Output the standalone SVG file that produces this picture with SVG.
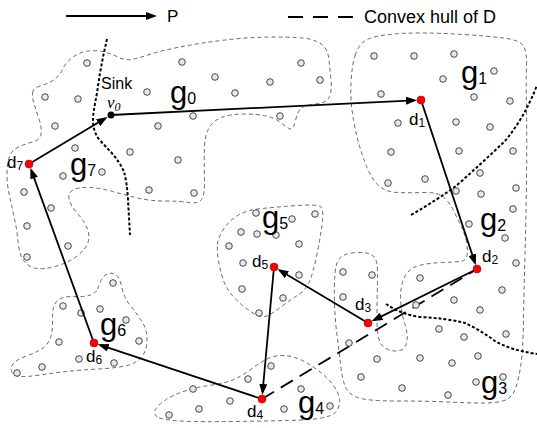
<svg xmlns="http://www.w3.org/2000/svg" width="537" height="428" viewBox="0 0 537 428">
<style>
.rg{fill:none;stroke:#555;stroke-width:0.9;stroke-dasharray:4 3}
.sep{fill:none;stroke:#000;stroke-width:2;stroke-dasharray:3 2}
.s{fill:#e3e8f0;stroke:#333;stroke-width:0.9}
.e{fill:none;stroke:#000;stroke-width:1.8;marker-end:url(#ah)}
.d{fill:#ff0000;stroke:#b00000;stroke-width:0.6}
.t{font-family:"Liberation Sans",Arial,sans-serif;fill:#000}
.gl{font-size:31px}
.dl{font-size:17px}
</style>
<defs>
<marker id="ah" viewBox="0 0 11 8" refX="8" refY="4" markerWidth="11" markerHeight="8" markerUnits="userSpaceOnUse" orient="auto"><path d="M0,0 L11,4 L0,8 Z" fill="#000"/></marker>
</defs>
<rect width="537" height="428" fill="#fff"/>

<g id="legend">
<line x1="66" y1="16" x2="154" y2="16" class="e"/>
<text class="t" x="167" y="22" font-size="17">P</text>
<line x1="288" y1="17" x2="353" y2="17" stroke="#000" stroke-width="2" stroke-dasharray="15 10"/>
<text class="t" x="364" y="22.5" font-size="18">Convex hull of D</text>
</g>

<g id="regions">
<path id="region-g0-g7" class="rg" d="M32.5,92.5 Q33,88 41.5,85.5 Q50,83 55,79 Q60,75 63,68.5 Q66,62 73,57 Q80,52 88.5,51 Q97,50 104.5,52 Q112,54 119,57.5 Q126,61 134,59 Q142,57 151,54 Q160,51 180,47 Q200,43 225,40 Q250,37 275,37 Q300,37 309,39 Q318,41 323,45.5 Q328,50 329,60 Q330,70 331,81 Q332,92 329,97.5 Q326,103 316,104 Q306,105 302,107.5 Q298,110 295.5,120.5 Q293,131 289,128.5 Q285,126 280,122 Q275,118 266,116 Q257,114 243.5,114 Q230,114 221.5,117.5 Q213,121 209,128 Q205,135 204.5,147.5 Q204,160 204.5,177.5 Q205,195 201.5,199.5 Q198,204 189,202.5 Q180,201 165,201 Q150,201 137.5,198 Q125,195 112.5,191.5 Q100,188 90,187.5 Q80,187 74,189.5 Q68,192 69,198.5 Q70,205 77.5,213.5 Q85,222 87.5,229 Q90,236 88,242.5 Q86,249 77,256 Q68,263 55,266.5 Q42,270 34.5,268 Q27,266 23,259.5 Q19,253 18,241.5 Q17,230 14.5,218.5 Q12,207 9.5,196 Q7,185 7,174 Q7,163 9.5,156.5 Q12,150 18.5,147 Q25,144 32.5,142 Q40,140 41,134 Q42,128 39,119 Q36,110 34,103.5 Q32,97 32.5,92.5 Z"/>
<path id="region-g1-g2-g3" class="rg" d="M355,55.5 Q358,46 364,41.5 Q370,37 385,35 Q400,33 420,33 Q440,33 463.5,34.5 Q487,36 503.5,38 Q520,40 523.5,46 Q527,52 526.5,66 Q526,80 526.5,110 Q527,140 526.5,180 Q526,220 525,255 Q524,290 523.5,320 Q523,350 521,364 Q519,378 516,387 Q513,396 506.5,399.5 Q500,403 483.5,403 Q467,403 447,402 Q427,401 397,401 Q367,401 357.5,397.5 Q348,394 345,386 Q342,378 340.5,364 Q339,350 337,335 Q335,320 334.5,302.5 Q334,285 335,273.5 Q336,262 340,258 Q344,254 352,253 Q360,252 366.5,253 Q373,254 375.5,259 Q378,264 377.5,282 Q377,300 377,318 Q377,336 380,342 Q383,348 389.5,350 Q396,352 401,350 Q406,348 407,341 Q408,334 405,324.5 Q402,315 401,305 Q400,295 401.5,286.5 Q403,278 407.5,272.5 Q412,267 421,265 Q430,263 442.5,262.5 Q455,262 460.5,261.5 Q466,261 467,255.5 Q468,250 466.5,242 Q465,234 461.5,227 Q458,220 454,211.5 Q450,203 444,197.5 Q438,192 424,192.5 Q410,193 397.5,192.5 Q385,192 377.5,184.5 Q370,177 363.5,158.5 Q357,140 353.5,120 Q350,100 351,82.5 Q352,65 355,55.5 Z"/>
<path id="region-g5" class="rg" d="M217.5,244.5 Q218,237 224,228.5 Q230,220 238.5,215 Q247,210 262,208.5 Q277,207 297.5,205.5 Q318,204 321,207 Q324,210 322,225 Q320,240 316.5,256.5 Q313,273 309.5,281.5 Q306,290 298,295 Q290,300 281.5,306.5 Q273,313 268,315.5 Q263,318 257.5,315.5 Q252,313 245,307.5 Q238,302 232,295 Q226,288 223,279 Q220,270 218.5,261 Q217,252 217.5,244.5 Z"/>
<path id="region-g6" class="rg" d="M97.5,289 Q99,285 101,280.5 Q103,276 107.5,274 Q112,272 116,275 Q120,278 122,288 Q124,298 131,306.5 Q138,315 142.5,322.5 Q147,330 147,340 Q147,350 142,356.5 Q137,363 127,365.5 Q117,368 98.5,369 Q80,370 66.5,371.5 Q53,373 40,375 Q27,377 20,376.5 Q13,376 11.5,371.5 Q10,367 14,363 Q18,359 26.5,356 Q35,353 41.5,349 Q48,345 50.5,337.5 Q53,330 52.5,321 Q52,312 54,306 Q56,300 62,298 Q68,296 76.5,296.5 Q85,297 90.5,295 Q96,293 97.5,289 Z"/>
<path id="region-g4" class="rg" d="M157.5,417 Q153,414 155.5,409.5 Q158,405 165.5,400 Q173,395 185,391 Q197,387 212,385 Q227,383 236,378.5 Q245,374 253.5,367.5 Q262,361 269.5,358 Q277,355 284.5,355.5 Q292,356 300,359.5 Q308,363 317.5,370 Q327,377 333,385 Q339,393 339.5,399.5 Q340,406 336.5,411 Q333,416 321.5,418 Q310,420 288.5,420.5 Q267,421 233.5,421.5 Q200,422 181,421 Q162,420 157.5,417 Z"/>
</g>

<g id="separators">
<path class="sep" d="M107,39 L103,57 L100,73 L97,93 Q93,113 93,120 Q93,130 98,138 Q104,145 110,151 Q120,162 124,172 Q127,182 128,200 L130,235"/>
<path class="sep" d="M411,215 Q440,198 456,186 Q482,163 505,141 Q525,117 537,85"/>
<path class="sep" d="M386,304 Q400,314 420,317 Q445,318 465,323 Q480,330 495,341 Q510,350 537,354"/>
</g>

<g id="hull">
<line x1="262" y1="399" x2="477" y2="269" stroke="#000" stroke-width="1.8" stroke-dasharray="14 8"/>
</g>

<g id="sensors">
<circle class="s" cx="87" cy="63" r="3.3"/><circle class="s" cx="182" cy="62" r="3.3"/><circle class="s" cx="215" cy="77" r="3.3"/><circle class="s" cx="270" cy="82" r="3.3"/><circle class="s" cx="301" cy="63" r="3.3"/><circle class="s" cx="320" cy="80" r="3.3"/><circle class="s" cx="45" cy="97" r="3.3"/><circle class="s" cx="78" cy="99" r="3.3"/><circle class="s" cx="147" cy="92" r="3.3"/><circle class="s" cx="235" cy="93" r="3.3"/><circle class="s" cx="193" cy="116" r="3.3"/><circle class="s" cx="280" cy="116" r="3.3"/><circle class="s" cx="55" cy="126" r="3.3"/><circle class="s" cx="158" cy="126" r="3.3"/><circle class="s" cx="75" cy="148" r="3.3"/><circle class="s" cx="130" cy="152" r="3.3"/><circle class="s" cx="178" cy="160" r="3.3"/><circle class="s" cx="63" cy="176" r="3.3"/><circle class="s" cx="102" cy="172" r="3.3"/><circle class="s" cx="24" cy="192" r="3.3"/><circle class="s" cx="149" cy="190" r="3.3"/><circle class="s" cx="194" cy="193" r="3.3"/><circle class="s" cx="51" cy="208" r="3.3"/><circle class="s" cx="27" cy="226" r="3.3"/><circle class="s" cx="68" cy="246" r="3.3"/><circle class="s" cx="27" cy="257" r="3.3"/>
<circle class="s" cx="374" cy="56" r="3.3"/><circle class="s" cx="414" cy="56" r="3.3"/><circle class="s" cx="454" cy="54" r="3.3"/><circle class="s" cx="443" cy="79" r="3.3"/><circle class="s" cx="494" cy="71" r="3.3"/><circle class="s" cx="381" cy="94" r="3.3"/><circle class="s" cx="474" cy="97" r="3.3"/><circle class="s" cx="510" cy="101" r="3.3"/><circle class="s" cx="398" cy="123" r="3.3"/><circle class="s" cx="456" cy="122" r="3.3"/><circle class="s" cx="490" cy="127" r="3.3"/><circle class="s" cx="391" cy="152" r="3.3"/><circle class="s" cx="459" cy="151" r="3.3"/><circle class="s" cx="513" cy="151" r="3.3"/><circle class="s" cx="480" cy="173" r="3.3"/><circle class="s" cx="388" cy="183" r="3.3"/><circle class="s" cx="425" cy="179" r="3.3"/><circle class="s" cx="456" cy="191" r="3.3"/><circle class="s" cx="516" cy="188" r="3.3"/><circle class="s" cx="481" cy="194" r="3.3"/><circle class="s" cx="513" cy="209" r="3.3"/>
<circle class="s" cx="469" cy="224" r="3.3"/><circle class="s" cx="505" cy="238" r="3.3"/><circle class="s" cx="516" cy="263" r="3.3"/><circle class="s" cx="502" cy="290" r="3.3"/><circle class="s" cx="420" cy="278" r="3.3"/><circle class="s" cx="454" cy="300" r="3.3"/><circle class="s" cx="416" cy="305" r="3.3"/><circle class="s" cx="480" cy="310" r="3.3"/>
<circle class="s" cx="343" cy="272" r="3.3"/><circle class="s" cx="372" cy="275" r="3.3"/><circle class="s" cx="343" cy="297" r="3.3"/><circle class="s" cx="349" cy="343" r="3.3"/>
<circle class="s" cx="439" cy="329" r="3.3"/><circle class="s" cx="464" cy="337" r="3.3"/><circle class="s" cx="506" cy="334" r="3.3"/><circle class="s" cx="377" cy="359" r="3.3"/><circle class="s" cx="420" cy="358" r="3.3"/><circle class="s" cx="452" cy="363" r="3.3"/><circle class="s" cx="478" cy="356" r="3.3"/><circle class="s" cx="361" cy="377" r="3.3"/><circle class="s" cx="402" cy="388" r="3.3"/><circle class="s" cx="448" cy="395" r="3.3"/><circle class="s" cx="476" cy="382" r="3.3"/><circle class="s" cx="503" cy="377" r="3.3"/>
<circle class="s" cx="256" cy="213" r="3.3"/><circle class="s" cx="292" cy="219" r="3.3"/><circle class="s" cx="315" cy="214" r="3.3"/><circle class="s" cx="241" cy="232" r="3.3"/><circle class="s" cx="257" cy="234" r="3.3"/><circle class="s" cx="276" cy="235" r="3.3"/><circle class="s" cx="229" cy="246" r="3.3"/><circle class="s" cx="299" cy="244" r="3.3"/><circle class="s" cx="243" cy="263" r="3.3"/><circle class="s" cx="299" cy="275" r="3.3"/><circle class="s" cx="242" cy="289" r="3.3"/><circle class="s" cx="283" cy="298" r="3.3"/><circle class="s" cx="259" cy="313" r="3.3"/>
<circle class="s" cx="271" cy="366" r="3.3"/><circle class="s" cx="248" cy="379" r="3.3"/><circle class="s" cx="193" cy="389" r="3.3"/><circle class="s" cx="230" cy="401" r="3.3"/><circle class="s" cx="199" cy="409" r="3.3"/><circle class="s" cx="169" cy="415" r="3.3"/><circle class="s" cx="284" cy="409" r="3.3"/><circle class="s" cx="301" cy="389" r="3.3"/><circle class="s" cx="330" cy="406" r="3.3"/>
<circle class="s" cx="113" cy="283" r="3.3"/><circle class="s" cx="63" cy="306" r="3.3"/><circle class="s" cx="100" cy="309" r="3.3"/><circle class="s" cx="81" cy="313" r="3.3"/><circle class="s" cx="126" cy="320" r="3.3"/><circle class="s" cx="59" cy="342" r="3.3"/><circle class="s" cx="139" cy="341" r="3.3"/><circle class="s" cx="79" cy="359" r="3.3"/><circle class="s" cx="114" cy="363" r="3.3"/><circle class="s" cx="42" cy="367" r="3.3"/><circle class="s" cx="17" cy="373" r="3.3"/>
</g>

<g id="connectors">
<line class="e" x1="111" y1="115" x2="414" y2="100.3"/>
<line class="e" x1="421" y1="100" x2="474.8" y2="262.4"/>
<line class="e" x1="477" y1="269" x2="374.3" y2="319.9"/>
<line class="e" x1="368" y1="323" x2="280" y2="270.6"/>
<line class="e" x1="274" y1="267" x2="262.6" y2="392"/>
<line class="e" x1="262" y1="399" x2="100.6" y2="345.2"/>
<line class="e" x1="94" y1="343" x2="31.4" y2="170.6"/>
<line class="e" x1="29" y1="164" x2="105" y2="118.6"/>
</g>

<g id="sink"><circle cx="111" cy="115" r="3.5" fill="#000"/>
<text class="t" x="101" y="89" font-size="16">Sink</text>
<text x="107" y="108" font-family="Liberation Serif,Times New Roman,serif" font-style="italic" font-size="17">v<tspan font-size="12" dy="3">0</tspan></text></g>
<g id="d1"><circle class="d" cx="421" cy="100" r="4"/><text class="t dl" x="409" y="125">d<tspan font-size="12" dy="2">1</tspan></text></g>
<g id="d2"><circle class="d" cx="477" cy="269" r="4"/><text class="t dl" x="482" y="262">d<tspan font-size="12" dy="2">2</tspan></text></g>
<g id="d3"><circle class="d" cx="368" cy="323" r="4"/><text class="t dl" x="355" y="310">d<tspan font-size="12" dy="2">3</tspan></text></g>
<g id="d4"><circle class="d" cx="262" cy="399" r="4"/><text class="t dl" x="247" y="417">d<tspan font-size="12" dy="2">4</tspan></text></g>
<g id="d5"><circle class="d" cx="274" cy="267" r="4"/><text class="t dl" x="252" y="267">d<tspan font-size="12" dy="2">5</tspan></text></g>
<g id="d6"><circle class="d" cx="94" cy="343" r="4"/><text class="t dl" x="86" y="362">d<tspan font-size="12" dy="2">6</tspan></text></g>
<g id="d7"><circle class="d" cx="29" cy="164" r="4"/><text class="t dl" x="7" y="168">d<tspan font-size="12" dy="2">7</tspan></text></g>

<g id="group-labels">
<text class="t gl" x="170" y="103">g<tspan font-size="16" dy="1">0</tspan></text>
<text class="t gl" x="461" y="83">g<tspan font-size="16" dy="1">1</tspan></text>
<text class="t gl" x="480" y="230">g<tspan font-size="16" dy="1">2</tspan></text>
<text class="t gl" x="481" y="393">g<tspan font-size="16" dy="1">3</tspan></text>
<text class="t gl" x="298" y="413">g<tspan font-size="16" dy="1">4</tspan></text>
<text class="t gl" x="262" y="228">g<tspan font-size="16" dy="1">5</tspan></text>
<text class="t gl" x="100" y="335">g<tspan font-size="16" dy="1">6</tspan></text>
<text class="t gl" x="70" y="175">g<tspan font-size="16" dy="1">7</tspan></text>
</g>
</svg>
